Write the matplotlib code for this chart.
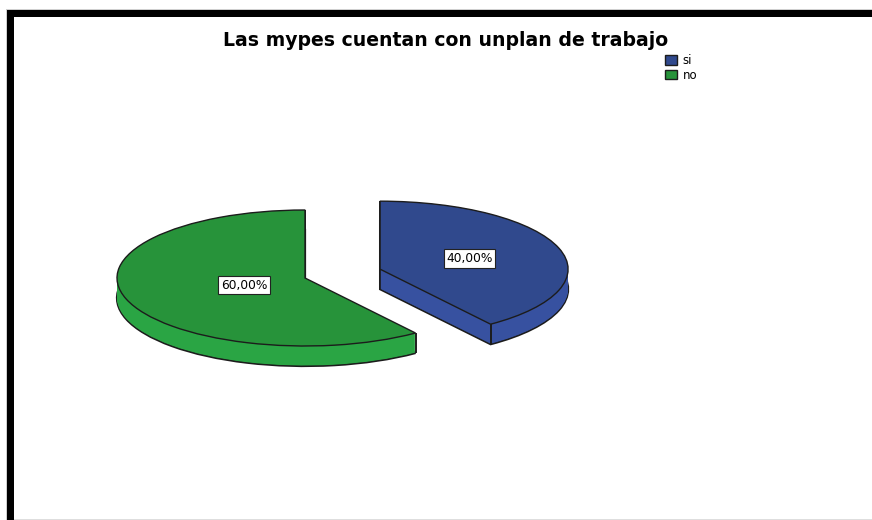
import numpy as np
import matplotlib
matplotlib.use('Agg')
import matplotlib.pyplot as plt
from matplotlib.patches import Rectangle

# data
CATEGORIES = ['si', 'no']
PERCENTS = [40.0, 60.0]
TITLE = 'Las mypes cuentan con unplan de trabajo'

TOP_COLORS = ['#30498d', '#27933a']
SIDE_COLORS = ['#3751a0', '#2aa544']
EDGE = '#1c1c1c'
EXPLODE = [0.42, 0.0]
LABEL_DIST = [0.5, 0.34]

W, H = 872, 520
SX, SY = 188.0, 68.0          # pixels per unit of radius (flattened pie)
THICK = 20.0 / SY             # depth of the pie
NLAYERS = 40

plt.rcParams['font.family'] = ['DejaVu Sans']

fig = plt.figure(figsize=(W / 100, H / 100), dpi=100)
fig.patch.set_facecolor('white')

# frame in pixel coordinates
bg = fig.add_axes([0, 0, 1, 1])
bg.set_xlim(0, W)
bg.set_ylim(H, 0)
bg.axis('off')
bg.add_patch(Rectangle((6, 9), W - 6, 1, color='#cfcfcf', lw=0))
bg.add_patch(Rectangle((6, 9), 1, H - 9, color='#cfcfcf', lw=0))
bg.add_patch(Rectangle((7, 10), W - 7, 7, color='black', lw=0))
bg.add_patch(Rectangle((7, 10), 7, H - 10, color='black', lw=0))
bg.add_patch(Rectangle((14, H - 1.5), W - 14, 1.5, color='#dedede', lw=0))

# pie axes: 1 unit = SX px horizontally, SY px vertically
ax = fig.add_axes([0, 0, 1, 1])
cx, cy = 305 / SX, (H - 278) / SY

# extruded sides, bottom layer first (with outline)
for k in range(NLAYERS, 0, -1):
    if k == NLAYERS:
        wp = dict(edgecolor=EDGE, linewidth=1.6)
    else:
        wp = dict(linewidth=0)
    ax.pie(PERCENTS, explode=EXPLODE, colors=SIDE_COLORS, startangle=90,
           counterclock=False, center=(cx, cy - THICK * k / NLAYERS),
           wedgeprops=wp)

# top faces
wedges, _ = ax.pie(PERCENTS, explode=EXPLODE, colors=TOP_COLORS, startangle=90,
                   counterclock=False, center=(cx, cy),
                   wedgeprops=dict(edgecolor=EDGE, linewidth=1.0))
for w in wedges:
    w.set_zorder(3)

# vertical edges of the slices
for w in wedges:
    x0, y0 = w.center
    ax.plot([x0, x0], [y0, y0 - THICK], color=EDGE, lw=1.2, zorder=2,
            solid_capstyle='butt')
    for th in (w.theta1, w.theta2):
        xe = x0 + w.r * np.cos(np.radians(th))
        ye = y0 + w.r * np.sin(np.radians(th))
        ax.plot([xe, xe], [ye, ye - THICK], color=EDGE, lw=1.4, zorder=2,
                solid_capstyle='butt')

# percentage labels
for w, p, d in zip(wedges, PERCENTS, LABEL_DIST):
    mid = np.radians((w.theta1 + w.theta2) / 2)
    x0, y0 = w.center
    ax.text(x0 + d * np.cos(mid), y0 + d * np.sin(mid),
            ('%.2f%%' % p).replace('.', ','), ha='center', va='center',
            fontsize=8.8, zorder=5,
            bbox=dict(boxstyle='square,pad=0.22', facecolor='white',
                      edgecolor='#222222', linewidth=0.8))

ax.set_aspect('auto')
ax.set_xlim(0, W / SX)
ax.set_ylim(0, H / SY)
ax.axis('off')

fig.text(446 / W, 1 - 46 / H, TITLE, ha='center', va='baseline',
         fontsize=13.6, fontweight='bold')

fig.legend(wedges, CATEGORIES, loc='upper left',
           bbox_to_anchor=(665 / W, 1 - 54 / H), frameon=False, fontsize=8.5,
           handlelength=1.05, handleheight=0.85, handletextpad=0.45,
           labelspacing=0.15, borderpad=0, borderaxespad=0)

fig.savefig('out.png', dpi=100, facecolor='white')
